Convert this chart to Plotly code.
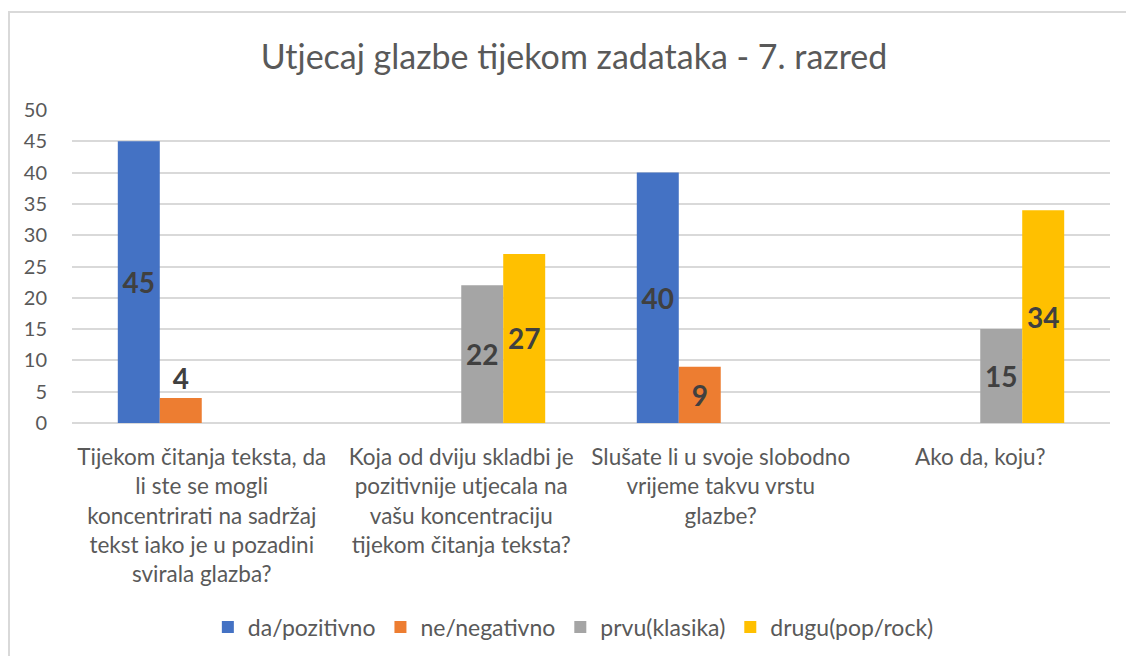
import plotly.graph_objects as go

categories = [
    "Tijekom čitanja teksta, da<br>li ste se mogli<br>koncentrirati na sadržaj<br>tekst iako je u pozadini<br>svirala glazba?",
    "Koja od dviju skladbi je<br>pozitivnije utjecala na<br>vašu koncentraciju<br>tijekom čitanja teksta?",
    "Slušate li u svoje slobodno<br>vrijeme takvu vrstu<br>glazbe?",
    "Ako da, koju?",
]
series_names = ["da/pozitivno", "ne/negativno", "prvu(klasika)", "drugu(pop/rock)"]
da_pozitivno = [45, None, 40, None]
ne_negativno = [4, None, 9, None]
prvu_klasika = [None, 22, None, 15]
drugu_pop_rock = [None, 27, None, 34]
y_ticks = [0, 5, 10, 15, 20, 25, 30, 35, 40, 45, 50]

colors = ["#4472C4", "#ED7D31", "#A5A5A5", "#FFC000"]
FONT = "Lato"

fig = go.Figure()
for name, vals, col in zip(series_names,
                           [da_pozitivno, ne_negativno, prvu_klasika, drugu_pop_rock],
                           colors):
    pos = ["outside" if (v is not None and v < 6) else "inside" for v in vals]
    fig.add_trace(go.Bar(
        x=categories, y=vals, name=name, marker_color=col, marker_line_width=0,
        text=[str(v) if v is not None else "" for v in vals],
        textposition=pos, insidetextanchor="middle", textangle=0,
        textfont=dict(family=FONT, size=28, color="#404040", weight="bold"),
        cliponaxis=False,
    ))

fig.update_layout(
    width=1126, height=656,
    margin=dict(l=72, r=16, t=110, b=233, autoexpand=False),
    paper_bgcolor="white", plot_bgcolor="white",
    barmode="group", bargap=0.353, bargroupgap=0,
    uniformtext=dict(minsize=28, mode="show"),
    font=dict(family=FONT, color="#595959"),
    title=dict(text="Utjecaj glazbe tijekom zadataka - 7. razred",
               font=dict(family=FONT, size=34, color="#595959"),
               x=574/1126, xanchor="center", y=1-57/656, yanchor="middle"),
    showlegend=True,
    legend=dict(orientation="h", x=0.483, xanchor="center", y=-0.652, yanchor="middle",
                font=dict(family=FONT, size=23, color="#595959"),
                traceorder="normal"),
    xaxis=dict(showgrid=False, showline=False, ticks="outside", ticklen=14,
               tickcolor="rgba(0,0,0,0)", automargin=False,
               tickfont=dict(family=FONT, size=22.5, color="#595959")),
    yaxis=dict(range=[0, 50], tickvals=y_ticks, showgrid=True, gridcolor="#D9D9D9",
               gridwidth=1.5, zeroline=True, zerolinecolor="#D9D9D9", zerolinewidth=1.5,
               ticks="outside", ticklen=20, tickcolor="rgba(0,0,0,0)", automargin=False,
               tickfont=dict(family=FONT, size=20, color="#595959")),
    shapes=[dict(type="rect", xref="paper", yref="paper",
                 x0=(9-72)/1038, x1=1.5, y0=-1.0, y1=(423-12)/313,
                 line=dict(color="#D9D9D9", width=2), layer="below")],
)

fig.write_html("out.html", config={"displayModeBar": False},
               post_script="document.body.style.margin='0';document.body.style.overflow='hidden';")
